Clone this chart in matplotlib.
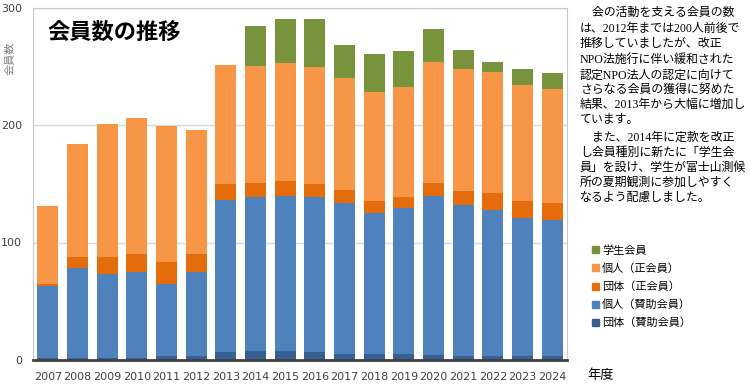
import numpy as np
import matplotlib.pyplot as plt
from matplotlib.patches import Patch

plt.rcParams['font.family'] = ['Noto Sans CJK JP', 'DejaVu Sans']

years = ['2007', '2008', '2009', '2010', '2011', '2012', '2013', '2014', '2015',
         '2016', '2017', '2018', '2019', '2020', '2021', '2022', '2023', '2024']

# members by type
dantai_sanjo = [2, 2, 2, 2, 3, 3, 7, 8, 8, 7, 5, 5, 5, 4, 3, 3, 3, 3]
kojin_sanjo = [61, 76, 71, 73, 62, 72, 129, 131, 132, 132, 129, 120, 124, 136, 129, 125, 118, 116]
dantai_sei = [2, 10, 15, 15, 18, 15, 14, 12, 12, 11, 11, 10, 10, 11, 12, 14, 14, 15]
kojin_sei = [66, 96, 113, 116, 116, 106, 101, 99, 101, 99, 95, 93, 93, 103, 104, 103, 99, 97]
gakusei = [0, 0, 0, 0, 0, 0, 0, 34, 37, 41, 28, 32, 31, 28, 16, 9, 14, 13]

series = [
    ('団体（賛助会員）', dantai_sanjo, '#376092'),
    ('個人（賛助会員）', kojin_sanjo, '#4F81BD'),
    ('団体（正会員）', dantai_sei, '#E46C0A'),
    ('個人（正会員）', kojin_sei, '#F79646'),
    ('学生会員', gakusei, '#77933C'),
]

body = ['\u3000会の活動を支える会員の数',
        'は、2012年までは200人前後で',
        '推移していましたが、改正',
        'NPO法施行に伴い緩和された',
        '認定NPO法人の認定に向けて',
        'さらなる会員の獲得に努めた',
        '結果、2013年から大幅に増加し',
        'ています。',
        '\u3000また、2014年に定款を改正',
        'し会員種別に新たに「学生会',
        '員」を設け、学生が富士山測候',
        '所の夏期観測に参加しやすく',
        'なるよう配慮しました。']
body_y = [13.3, 29.3, 44.3, 60, 75.3, 90, 105.3, 120.3, 137.7, 152.7, 168.3, 182.7, 197.7]

W, H = 750, 386
fig = plt.figure(figsize=(W / 100, H / 100), dpi=100)
ax = fig.add_axes([33 / W, 1 - 360 / H, (567 - 33) / W, (360 - 7.5) / H])

x = np.arange(len(years))
bottom = np.zeros(len(years))
handles = []
for name, vals, col in series:
    vals = np.array(vals, dtype=float)
    ax.bar(x, vals, width=0.71, bottom=bottom, color=col, zorder=3)
    bottom += vals
    handles.append(Patch(color=col, label=name))

ax.set_xlim(-0.5, len(years) - 0.5)
ax.set_ylim(0, 300)
ax.set_yticks([0, 100, 200, 300])
ax.set_yticklabels(['0', '100', '200', '300'], family='DejaVu Sans')
ax.set_xticks(x)
ax.set_xticklabels(years, family='DejaVu Sans')
ax.tick_params(axis='both', length=0, labelsize=8, labelcolor='#404040')
ax.tick_params(axis='y', pad=8)
ax.tick_params(axis='x', pad=9)
ax.grid(axis='y', color='#D9D9D9', lw=1, zorder=0)
for s in ['left', 'top', 'right']:
    ax.spines[s].set_color('#C8C8C8')
ax.spines['bottom'].set_color('#404040')
ax.spines['bottom'].set_linewidth(2)
ax.spines['bottom'].set_zorder(4)

fig.text(47 / W, 1 - 32.5 / H, '会員数の推移', fontsize=16, fontweight='bold',
         va='center', ha='left')
fig.text(10 / W, 1 - 58 / H, '会員数', fontsize=8, rotation=90, color='#808080',
         va='center', ha='center')

for line, yy in zip(body, body_y):
    fig.text(580 / W, 1 - yy / H, line, fontsize=8.6, va='center', ha='left',
             family=['Liberation Serif', 'Noto Sans CJK JP'])

fig.legend(handles=handles[::-1], loc='upper left', bbox_to_anchor=(592 / W, 1 - 245 / H),
           frameon=False, fontsize=8, handlelength=0.6, handleheight=0.6,
           handletextpad=0.3, labelspacing=0.68, borderaxespad=0, borderpad=0)

fig.text(587 / W, 1 - 375 / H, '年度', fontsize=9.5, va='center', ha='left')

plt.savefig('out.png', dpi=100)
